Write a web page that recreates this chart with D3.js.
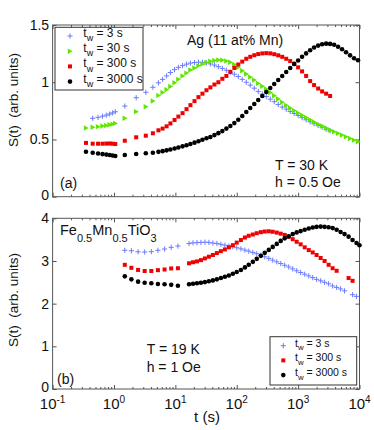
<!DOCTYPE html>
<html>
<head>
<meta charset="utf-8">
<script src="https://cdn.jsdelivr.net/npm/d3@7"></script>
<style>
body { margin: 0; background: #fff; }
svg { display: block; font-family: "Liberation Sans", Arial, sans-serif; }
</style>
</head>
<body>
<svg id="chart" width="374" height="430"></svg>
<script>
// ========================
// Data
// ========================

// panel (a): Ag(11 at% Mn), T = 30 K
const tTop = [0.35, 0.45, 0.55, 0.65, 0.75, 0.85, 0.95, 1.05, 1.5, 2.3, 3.3, 4.3,
  5.3, 6.2, 7.2, 8.3, 9.7, 11.2, 13.1, 15.2, 17.6, 20.5, 23.8, 27.6, 32.1, 37.2, 43.3,
  50.2, 58.3, 67.8, 78.7, 91.4, 106, 123, 143, 166, 193, 224, 261, 303, 352, 408,
  474, 551, 640, 743, 863, 1000, 1160, 1350, 1570, 1820, 2120, 2460, 2860, 3320, 3860,
  4480, 5200, 6040, 7020, 8150, 9460];

const topTw3 = [null, 0.685, 0.693, 0.703, 0.712, 0.722, 0.732, 0.742, 0.792, 0.865, 0.912, 0.956,
  0.995, 1.025, 1.055, 1.085, 1.11, 1.13, 1.145, 1.158, 1.167, 1.172, 1.175, 1.174, 1.170, 1.160, 1.150,
  1.136, 1.121, 1.105, 1.088, 1.07, 1.05, 1.025, 1.0, 0.975, 0.948, 0.92, 0.897, 0.875, 0.852, 0.83,
  0.806, 0.783, 0.765, 0.745, 0.727, 0.71, 0.69, 0.672, 0.655, 0.638, 0.622, 0.607, 0.59, 0.575, null,
  null, null, null, null, null, null];

const topTw30 = [0.600, 0.607, 0.612, 0.617, 0.622, 0.628, 0.634, 0.641, 0.685, 0.743, 0.786, 0.836,
  0.885, 0.91, 0.935, 0.963, 0.995, 1.025, 1.055, 1.08, 1.107, 1.125, 1.143, 1.158, 1.172, 1.183, 1.19,
  1.194, 1.193, 1.186, 1.175, 1.155, 1.13, 1.10, 1.072, 1.045, 1.02, 0.99, 0.965, 0.94, 0.91, 0.882,
  0.853, 0.825, 0.798, 0.775, 0.752, 0.732, 0.712, 0.692, 0.672, 0.652, 0.634, 0.617, 0.6, 0.583, 0.568,
  0.553, 0.538, 0.523, 0.508, 0.494, 0.48];

const topTw300 = [0.470, 0.463, 0.463, 0.463, 0.464, 0.465, 0.463, 0.460, 0.489, 0.519, 0.533, 0.554,
  0.58, 0.595, 0.615, 0.64, 0.67, 0.70, 0.73, 0.765, 0.80, 0.835, 0.87, 0.9, 0.93, 0.955, 0.98,
  1.0, 1.03, 1.055, 1.09, 1.125, 1.155, 1.18, 1.205, 1.222, 1.236, 1.246, 1.252, 1.254, 1.252, 1.245,
  1.235, 1.222, 1.205, 1.185, 1.16, 1.13, 1.095, 1.055, 1.01, 0.975, 0.945, 0.92, 0.9, 0.88, null,
  null, null, null, null, null, null];

const topTw3000 = [0.393, 0.384, 0.378, 0.372, 0.368, 0.364, 0.36, 0.356, 0.364, 0.373, 0.379, 0.384,
  0.392, 0.398, 0.405, 0.413, 0.421, 0.43, 0.44, 0.45, 0.46, 0.472, 0.485, 0.497, 0.51, 0.522, 0.538,
  0.555, 0.573, 0.595, 0.618, 0.643, 0.672, 0.705, 0.74, 0.775, 0.81, 0.845, 0.88, 0.915, 0.95, 0.985,
  1.02, 1.055, 1.09, 1.125, 1.16, 1.19, 1.222, 1.252, 1.28, 1.303, 1.32, 1.332, 1.337, 1.335, 1.327,
  1.31, 1.288, 1.262, 1.235, 1.21, 1.192];

// panel (b): Fe0.5Mn0.5TiO3, T = 19 K
const tBot = [1.5, 1.92, 2.47, 3.16, 4.06, 5.2, 6.67, 8.55, 11.0,
  16.7, 19.4, 22.5, 26.1, 30.3, 35.2, 40.9, 47.5, 55.2, 64.1, 74.5, 86.5, 100, 117, 136,
  157, 183, 212, 247, 286, 333, 386, 449, 521, 605, 703, 817, 948, 1100, 1280,
  1490, 1730, 2000, 2330, 2700, 3140, 3650, 4240, 4920, 5710, 6640, 7710, 8950, 10000];

const botTw3 = [3.25, 3.24, 3.215, 3.21, 3.218, 3.25, 3.28, 3.32, 3.35,
  3.41, 3.425, 3.43, 3.435, 3.44, 3.435, 3.42, 3.41, 3.39, 3.37, 3.35, 3.33, 3.31, 3.285, 3.255,
  3.23, 3.20, 3.17, 3.135, 3.10, 3.06, 3.02, 2.98, 2.94, 2.90, 2.86, 2.815, 2.77, 2.73, 2.69,
  2.65, 2.61, 2.57, 2.535, 2.50, 2.465, 2.415, 2.38, 2.345, 2.30, null, 2.21, 2.17, null];

const botTw300 = [2.91, 2.84, 2.79, 2.765, 2.765, 2.785, 2.80, 2.825, 2.83,
  2.945, 2.97, 2.99, 3.02, 3.06, 3.10, 3.14, 3.185, 3.23, 3.27, 3.32, 3.37, 3.43, 3.49, 3.55,
  3.59, 3.62, 3.65, 3.675, 3.69, 3.695, 3.685, 3.665, 3.64, 3.61, 3.565, 3.51, 3.45, 3.39, 3.32,
  3.255, 3.20, 3.14, 3.07, 3.00, 2.91, 2.83, 2.77, null, null, 2.60, 2.535, null, null];

const botTw3000 = [2.64, 2.57, 2.515, 2.49, 2.477, 2.462, 2.453, 2.44, 2.42,
  2.453, 2.465, 2.478, 2.49, 2.505, 2.525, 2.545, 2.57, 2.60, 2.63, 2.66, 2.70, 2.74, 2.79, 2.85,
  2.91, 2.98, 3.05, 3.12, 3.19, 3.26, 3.33, 3.40, 3.47, 3.53, 3.58, 3.63, 3.67, 3.70, 3.73,
  3.76, 3.785, 3.80, 3.805, 3.80, 3.79, 3.77, 3.73, 3.68, 3.63, 3.57, 3.49, 3.42, 3.37];

const xMajor = [0.1, 1, 10, 100, 1000, 10000];
const yTicksTop = [0, 0.5, 1, 1.5];
const yTicksBot = [0, 1, 2, 3, 4];

// ========================
// Setup
// ========================
const svg = d3.select("#chart");
const axisColor = "#555";
const colors = { plus: "#6b7bff", tri: "#5ce600", square: "#f00000", circle: "#000" };

const x = d3.scaleLog().domain([0.1, 1e4]).range([52.6, 359.5]);
const xMinor = x.ticks().filter(d => !xMajor.some(m => Math.abs(m - d) < 1e-9));

function drawMarker(g, kind, cx, cy) {
    if (kind === "circle") {
        g.append("circle").attr("cx", cx).attr("cy", cy).attr("r", 2.3).attr("fill", colors.circle);
    } else if (kind === "square") {
        g.append("rect").attr("x", cx - 2).attr("y", cy - 2).attr("width", 4).attr("height", 4)
            .attr("fill", colors.square);
    } else if (kind === "tri") {
        g.append("path").attr("d", `M${cx - 2.2},${cy - 2.7}L${cx + 2.7},${cy}L${cx - 2.2},${cy + 2.7}Z`)
            .attr("fill", colors.tri);
    } else {
        g.append("path").attr("d", `M${cx - 2.6},${cy}H${cx + 2.6}M${cx},${cy - 2.6}V${cy + 2.6}`)
            .attr("stroke", colors.plus).attr("stroke-width", 1).attr("fill", "none");
    }
}

// text with "t_w = ..." subscript
function twText(g, px, py, label, size) {
    const t = g.append("text").attr("x", px).attr("y", py).attr("font-size", size).attr("fill", "#111");
    t.append("tspan").text("t");
    t.append("tspan").attr("font-size", size * 0.75).attr("dy", size * 0.35).text("w");
    t.append("tspan").attr("dy", -size * 0.35).text(" = " + label);
}

function drawPanel(p) {
    const y = d3.scaleLinear().domain(p.yDomain).range(p.yRange);
    const [x0, x1] = x.range();
    const g = svg.append("g");

    // axes (ticks point inward, MATLAB style)
    const left = g.append("g").attr("transform", `translate(${x0},0)`)
        .call(d3.axisLeft(y).tickValues(p.yTicks).tickSize(-4).tickPadding(3.5).tickFormat(d => d));
    left.attr("font-size", 14).attr("font-family", null);
    left.selectAll("text").attr("fill", "#111");
    // lowest label sits a touch higher so it clears the x tick labels
    left.selectAll(".tick text").filter(d => d === 0).attr("dy", "0.2em");

    g.append("g").attr("transform", `translate(${x1},0)`)
        .call(d3.axisRight(y).tickValues(p.yTicks).tickSize(-4).tickFormat(""));

    [[p.yRange[0], d3.axisBottom], [p.yRange[1], d3.axisTop]].forEach(([yy, ax]) => {
        g.append("g").attr("transform", `translate(0,${yy})`)
            .call(ax(x).tickValues(xMajor).tickSize(-4).tickFormat(""));
        g.append("g").attr("transform", `translate(0,${yy})`)
            .call(ax(x).tickValues(xMinor).tickSize(-2).tickFormat(""));
    });

    g.selectAll(".domain").remove();
    g.selectAll(".tick line").attr("stroke", axisColor);

    g.append("rect")
        .attr("x", x0).attr("y", p.yRange[1])
        .attr("width", x1 - x0).attr("height", p.yRange[0] - p.yRange[1])
        .attr("fill", "none").attr("stroke", axisColor).attr("stroke-width", 1);

    // data
    p.series.forEach(s => {
        const sg = g.append("g");
        s.t.forEach((tv, i) => {
            if (s.v[i] == null) return;
            drawMarker(sg, s.kind, x(tv), y(s.v[i]));
        });
    });

    // y label
    g.append("text")
        .attr("transform", `translate(18,${p.yLabelY}) rotate(-90)`)
        .attr("text-anchor", "middle")
        .attr("font-size", 13.5)
        .style("white-space", "pre")
        .attr("fill", "#111")
        .text("S(t)  (arb. units)");

    // legend
    const L = p.legend;
    g.append("rect").attr("x", L.x).attr("y", L.y).attr("width", L.w).attr("height", L.h)
        .attr("fill", "#fff").attr("stroke", "#333").attr("stroke-width", 1);
    p.series.forEach((s, i) => {
        const ly = L.y0 + i * L.dy;
        drawMarker(g, s.kind, L.mx, ly);
        twText(g, L.tx, ly + 1, s.name, L.fs);
    });

    return { g, y };
}

// ========================
// Panel (a)
// ========================
const a = drawPanel({
    yDomain: [0, 1.5], yRange: [196.7, 25], yTicks: yTicksTop, yLabelY: 100,
    series: [
        { name: "3 s", kind: "plus", t: tTop, v: topTw3 },
        { name: "30 s", kind: "tri", t: tTop, v: topTw30 },
        { name: "300 s", kind: "square", t: tTop, v: topTw300 },
        { name: "3000 s", kind: "circle", t: tTop, v: topTw3000 }
    ],
    legend: { x: 55, y: 27.3, w: 88, h: 62.7, y0: 36, dy: 15.2, mx: 70, tx: 83.3, fs: 12 }
});

a.g.append("text").attr("x", 187).attr("y", 44.5).attr("font-size", 14).attr("fill", "#111")
    .text("Ag (11 at% Mn)");
a.g.append("text").attr("x", 275).attr("y", 170).attr("font-size", 14).attr("fill", "#111")
    .text("T = 30 K");
a.g.append("text").attr("x", 275).attr("y", 187).attr("font-size", 14).attr("fill", "#111")
    .text("h = 0.5 Oe");
a.g.append("text").attr("x", 60).attr("y", 188).attr("font-size", 14).attr("fill", "#111")
    .text("(a)");

// ========================
// Panel (b)
// ========================
const b = drawPanel({
    yDomain: [0, 4], yRange: [389, 218.3], yTicks: yTicksBot, yLabelY: 300,
    series: [
        { name: "3 s", kind: "plus", t: tBot, v: botTw3 },
        { name: "300 s", kind: "square", t: tBot, v: botTw300 },
        { name: "3000 s", kind: "circle", t: tBot, v: botTw3000 }
    ],
    legend: { x: 270, y: 336.7, w: 86.7, h: 48.3, y0: 345.7, dy: 14.7, mx: 283.3, tx: 295, fs: 10.5 }
});

// x tick labels 10^n
xMajor.forEach(d => {
    const t = b.g.append("text").attr("x", x(d)).attr("y", 409)
        .attr("text-anchor", "middle").attr("font-size", 15).attr("fill", "#111");
    t.append("tspan").text("10");
    t.append("tspan").attr("dy", -6.5).attr("font-size", 10).text(Math.round(Math.log10(d)));
});

b.g.append("text").attr("x", 207).attr("y", 422).attr("text-anchor", "middle")
    .attr("font-size", 15).attr("fill", "#111").text("t (s)");

const fe = b.g.append("text").attr("x", 60).attr("y", 235).attr("font-size", 14.5).attr("fill", "#111");
[["Fe", 0], ["0.5", 1], ["Mn", 0], ["0.5", 1], ["TiO", 0], ["3", 1]].forEach(([s, sub], i, arr) => {
    const prevSub = i > 0 ? arr[i - 1][1] : 0;
    fe.append("tspan").attr("dy", (sub - prevSub) * 6.5)
        .attr("font-size", sub ? 11 : 14.5).text(s);
});

b.g.append("text").attr("x", 146.7).attr("y", 354.3).attr("font-size", 14).attr("fill", "#111")
    .text("T = 19 K");
b.g.append("text").attr("x", 146.7).attr("y", 371.7).attr("font-size", 14).attr("fill", "#111")
    .text("h = 1 Oe");
b.g.append("text").attr("x", 57).attr("y", 384).attr("font-size", 14).attr("fill", "#111")
    .text("(b)");
</script>
</body>
</html>
